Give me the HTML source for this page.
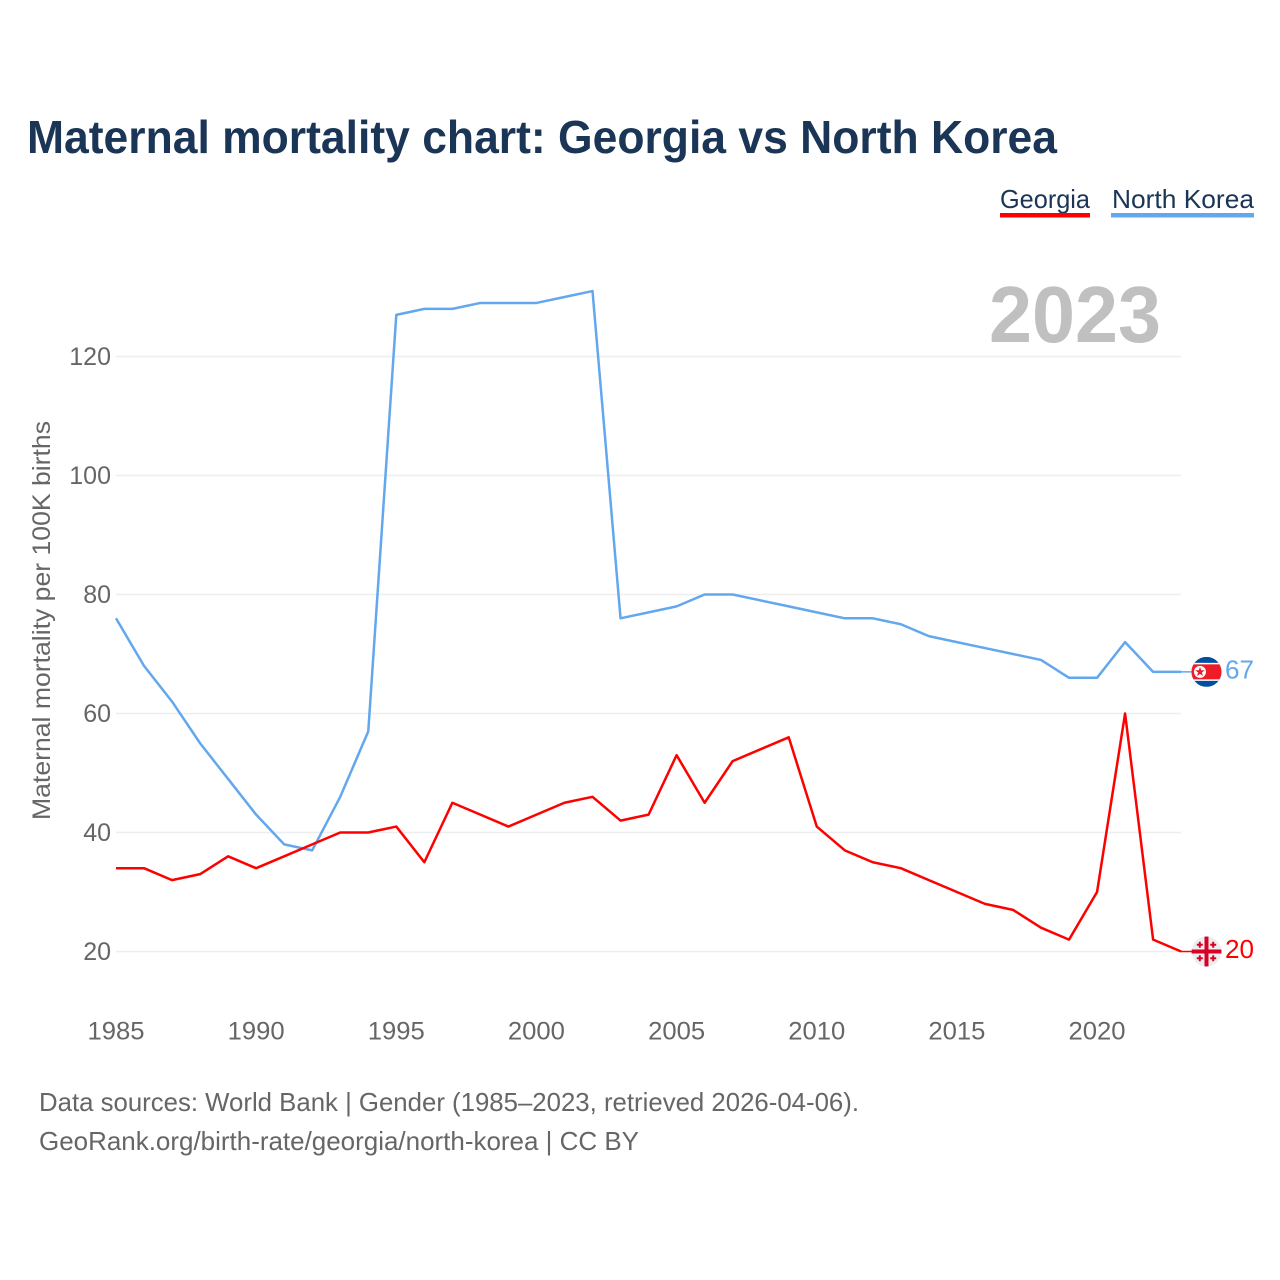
<!DOCTYPE html>
<html lang="en">
<head>
<meta charset="utf-8">
<title>Maternal mortality chart: Georgia vs North Korea</title>
<style>
html,body{margin:0;padding:0;background:#fff;}
svg{display:block;font-family:"Liberation Sans",sans-serif;}
</style>
</head>
<body>
<svg id="chart" xmlns="http://www.w3.org/2000/svg" width="1280" height="1280" viewBox="0 0 1280 1280">
  <rect x="0" y="0" width="1280" height="1280" fill="#ffffff"/>
  <text x="27" y="153" font-size="46" font-weight="700" fill="#1a3556" textLength="1030" lengthAdjust="spacingAndGlyphs">Maternal mortality chart: Georgia vs North Korea</text>

  <g>
    <text x="1000" y="208" font-size="26" fill="#1a3556" textLength="90" lengthAdjust="spacingAndGlyphs">Georgia</text>
    <rect x="1000" y="213" width="90" height="4.5" fill="#ff0000"/>
  </g>
  <g>
    <text x="1112" y="208" font-size="26" fill="#1a3556" textLength="142" lengthAdjust="spacingAndGlyphs">North Korea</text>
    <rect x="1111" y="213" width="143" height="4.5" fill="#63a7ee"/>
  </g>

  <text x="989" y="342" font-size="80" font-weight="700" fill="#c0c0c0" textLength="172" lengthAdjust="spacingAndGlyphs">2023</text>

  <g id="grid"></g>
  <g id="yticks"></g>
  <g id="xticks"></g>

  <text transform="translate(50,820) rotate(-90)" x="0" y="0" font-size="25" fill="#666666" textLength="399" lengthAdjust="spacingAndGlyphs">Maternal mortality per 100K births</text>

  <path id="line-nk" fill="none" stroke="#63a7ee" stroke-width="2.5" stroke-linejoin="round"/>
  <path id="line-ge" fill="none" stroke="#ff0000" stroke-width="2.5" stroke-linejoin="round"/>

  <g id="end-nk">
    <line x1="1181" x2="1192" stroke="#63a7ee" stroke-width="1.5"/>
    <g id="flag-nk">
      <clipPath id="clip-nk"><circle cx="0" cy="0" r="15"/></clipPath>
      <g clip-path="url(#clip-nk)">
        <rect x="-15" y="-15" width="30" height="30" fill="#024fa2"/>
        <rect x="-15" y="-9" width="30" height="18" fill="#ffffff"/>
        <rect x="-15" y="-7.5" width="30" height="15" fill="#ed1c27"/>
        <circle cx="-6.5" cy="0" r="6" fill="#ffffff"/>
        <polygon points="-6.5,-5 -5.3,-1.6 -1.7,-1.5 -4.6,0.7 -3.5,4.1 -6.5,2.1 -9.5,4.1 -8.4,0.7 -11.3,-1.5 -7.7,-1.6" fill="#ed1c27"/>
      </g>
    </g>
    <text id="label-nk" x="1225" font-size="26" fill="#63a7ee" textLength="29" lengthAdjust="spacingAndGlyphs"></text>
  </g>

  <g id="end-ge">
    <line x1="1181" x2="1192" stroke="#ff0000" stroke-width="1.5"/>
    <g id="flag-ge">
      <clipPath id="clip-ge"><circle cx="0" cy="0" r="15"/></clipPath>
      <g clip-path="url(#clip-ge)">
        <rect x="-15" y="-15" width="30" height="30" fill="#eeeeee"/>
        <rect x="-2" y="-15" width="4" height="30" fill="#d80027"/>
        <rect x="-15" y="-2" width="30" height="4" fill="#d80027"/>
        <path d="M-6.7-9.7v6M-9.7-6.7h6M6.7-9.7v6M3.7-6.7h6M-6.7 3.7v6M-9.7 6.7h6M6.7 3.7v6M3.7 6.7h6" stroke="#d80027" stroke-width="2" fill="none"/>
      </g>
    </g>
    <text id="label-ge" x="1225" font-size="26" fill="#ff0000" textLength="29" lengthAdjust="spacingAndGlyphs"></text>
  </g>

  <text x="39" y="1111" font-size="26" fill="#666666" textLength="820" lengthAdjust="spacingAndGlyphs">Data sources: World Bank | Gender (1985–2023, retrieved 2026-04-06).</text>
  <text x="39" y="1150" font-size="26" fill="#666666" textLength="600" lengthAdjust="spacingAndGlyphs">GeoRank.org/birth-rate/georgia/north-korea | CC BY</text>
</svg>
<script>
const years = [1985,1986,1987,1988,1989,1990,1991,1992,1993,1994,1995,1996,1997,1998,1999,2000,2001,2002,2003,2004,2005,2006,2007,2008,2009,2010,2011,2012,2013,2014,2015,2016,2017,2018,2019,2020,2021,2022,2023];
const georgia = [34,34,32,33,36,34,36,38,40,40,41,35,45,43,41,43,45,46,42,43,53,45,52,54,56,41,37,35,34,32,30,28,27,24,22,30,60,22,20];
const northKorea = [76,68,62,55,49,43,38,37,46,57,127,128,128,129,129,129,130,131,76,77,78,80,80,79,78,77,76,76,75,73,72,71,70,69,66,66,72,67,67];
const yTickValues = [20,40,60,80,100,120];
const xTickValues = [1985,1990,1995,2000,2005,2010,2015,2020];

const NS = 'http://www.w3.org/2000/svg';
function xScale(year){ return 116 + (year - 1985) * 28.03; }
function yScale(v){ return 951.5 - (v - 20) * 5.95; }

const grid = document.getElementById('grid');
const yticks = document.getElementById('yticks');
const xticks = document.getElementById('xticks');

yTickValues.forEach(function(v){
  const l = document.createElementNS(NS,'line');
  
  
  l.setAttribute('x1', 116);
  l.setAttribute('x2', 1181);
  l.setAttribute('y1', yScale(v));
  l.setAttribute('y2', yScale(v));
  l.setAttribute('stroke', '#eeeeee');
  l.setAttribute('stroke-width', '1.5');
  grid.appendChild(l);

  const t = document.createElementNS(NS,'text');
  
  
  t.setAttribute('x', 111);
  t.setAttribute('y', yScale(v) + 8.5);
  t.setAttribute('text-anchor', 'end');
  t.setAttribute('font-size', '25');
  t.setAttribute('fill', '#666666');
  t.textContent = v;
  yticks.appendChild(t);
});

xTickValues.forEach(function(y){
  const t = document.createElementNS(NS,'text');
  
  
  t.setAttribute('x', xScale(y));
  t.setAttribute('y', 1039.5);
  t.setAttribute('text-anchor', 'middle');
  t.setAttribute('font-size', '25');
  t.setAttribute('fill', '#666666');
  t.setAttribute('textLength', '57');
  t.setAttribute('lengthAdjust', 'spacingAndGlyphs');
  t.textContent = y;
  xticks.appendChild(t);
});

function linePath(values){
  return values.map(function(v,i){
    return (i ? 'L' : 'M') + xScale(years[i]).toFixed(2) + ' ' + yScale(v).toFixed(2);
  }).join('');
}
document.getElementById('line-nk').setAttribute('d', linePath(northKorea));
document.getElementById('line-ge').setAttribute('d', linePath(georgia));

function placeEnd(groupId, flagId, labelId, values){
  const v = values[values.length - 1];
  const y = yScale(v);
  const g = document.getElementById(groupId);
  const leader = g.querySelector('line');
  leader.setAttribute('y1', y);
  leader.setAttribute('y2', y);
  document.getElementById(flagId).setAttribute('transform', 'translate(1206.5,' + y + ')');
  const lab = document.getElementById(labelId);
  lab.setAttribute('y', y + 6.5);
  lab.textContent = v;
}
placeEnd('end-nk', 'flag-nk', 'label-nk', northKorea);
placeEnd('end-ge', 'flag-ge', 'label-ge', georgia);
</script>
</body>
</html>
